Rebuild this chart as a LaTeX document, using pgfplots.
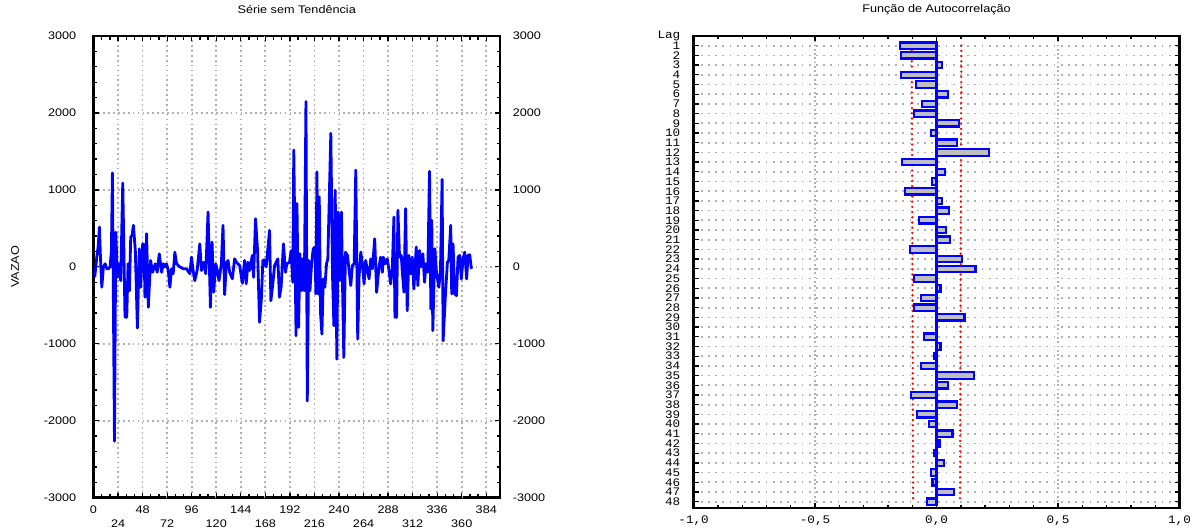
\documentclass[border=0pt]{standalone}
\usepackage{fontspec}
\setmainfont{Liberation Sans}
\newfontfamily\sanslab{Liberation Sans}[FakeStretch=1.15]
\newfontfamily\monolab{Liberation Mono}[FakeStretch=1.1]
\usepackage{pgfplots}
\pgfplotsset{compat=1.18}

\pgfplotsset{
  every axis/.append style={line width=2.6pt},
  statbox/.style={
    scale only axis,
    anchor=south west,
    tick align=inside,
    major tick length=5pt, minor tick length=3.5pt,
    every tick/.style={black, line width=1.3pt},
    axis line style={black, line width=2.6pt},
  },
}

\begin{document}
\begin{tikzpicture}[x=1pt,y=1pt]
\path[use as bounding box] (0,0) rectangle (1197,532);

% ---------- left: serie sem tendencia ----------
\begin{axis}[statbox,
  at={(93.5pt,34.3pt)}, width=406.5pt, height=461.7pt,
  xmin=0, xmax=397.4, ymin=-3000, ymax=3000,
  xtick={0,48,...,384},
  extra x ticks={24,72,...,360},
  extra x tick style={xticklabel style={yshift=-14pt}},
  ytick={-3000,-2000,...,3000},
  minor x tick num=5, minor y tick num=4,
  xtick pos=both, ytick pos=both,
  xticklabel pos=lower, yticklabel pos=left,
  grid=major,
  major grid style={black!30, line width=1.7pt, dash pattern=on 1.7pt off 3.2pt},
  /pgf/number format/1000 sep={},
  /pgf/number format/assume math mode=true,
  xticklabel style={font=\sanslab\fontsize{11}{12}\selectfont, inner sep=0pt, yshift=-7pt},
  yticklabel style={font=\sanslab\fontsize{11}{12}\selectfont, inner sep=0pt, xshift=-16pt},
  title={Série sem Tendência},
  title style={font=\sanslab\fontsize{11}{12}\selectfont, at={(axis description cs:0.5,1)}, anchor=center, yshift=20pt},
  ylabel={VAZAO},
  ylabel style={font=\sanslab\fontsize{11}{12}\selectfont, at={(axis description cs:-0.193,0.5)}, anchor=center},
]
\addplot[blue, line width=2.8pt, line join=round] coordinates {
(1.2,-135) (3.2,126) (4.5,256) (5.8,517) (6.8,126) (8.1,-265) (9.7,0) (11.4,40)
(13,-25) (14.6,-25) (16.2,0) (17.5,210) (18.5,1220) (20.5,-2265) (21.8,450)
(23.4,-135) (24.7,40) (26.6,-180) (28.6,1090) (30.8,-655) (32.5,-655) (33.8,40)
(35.1,-310) (36.4,387) (37.7,410) (39,540) (40.9,210) (42.9,-795) (44.8,235)
(46.1,-265) (48.1,300) (49.4,280) (50.3,-395) (51.9,430) (53.6,-525) (55.8,83)
(57.8,-70) (60.4,40) (62.3,-70) (64.3,170) (66.6,-70) (68.2,40) (69.8,0)
(71.4,40) (73.1,-48) (74.7,-265) (76.3,-25) (77.9,-90) (79.5,190) (81.2,40)
(84.4,0) (87.7,-25) (90.9,-25) (94.2,-90) (95.8,126) (97.4,-48) (99,-180)
(101.3,-48) (103.9,300) (105.5,-48) (107.8,60) (109.7,-90) (112,713) (114.3,-525)
(115.9,322) (117.5,-330) (119.5,40) (121.1,-48) (122.7,-180) (125,40) (126.6,540)
(128.2,-360) (129.9,40) (131.5,83) (133.1,-70) (135.7,-155) (138,104) (139.6,60)
(142.9,17) (145.5,-213) (147.7,83) (149.3,-220) (151,60) (152.6,-48) (155.2,148)
(156.5,-135) (158.4,626) (160.4,210) (162.3,-720) (164,-440) (165.6,83) (167.2,91)
(168.8,0) (172.1,474) (173.4,-440) (175.3,-220) (177,17) (178.6,60) (180.2,104)
(181.8,-395) (183.4,-265) (185.7,300) (187.7,-70) (189,40) (191.6,60) (193.2,210)
(194.8,-200) (195.8,1517) (198,-895) (198.9,822) (200.5,-787) (201.8,170)
(203.5,-310) (204.4,104) (206.1,-310) (207.7,2148) (209,-1743) (210.3,83)
(211.6,-310) (213.2,40) (214.8,235) (216.5,257) (217.4,-352) (218.4,1235)
(219.7,-352) (220.7,909) (222,-613) (223.3,-874) (224.6,-157) (226.2,-265)
(227.8,40) (229.1,104) (232,1735) (233.7,-135) (235,-765) (236.3,996) (237.9,-1200)
(239.2,713) (240.8,-178) (242.4,713) (243.4,-200) (244.7,-1178) (246.3,191)
(248.3,148) (249.9,-48) (251.5,-243) (253.1,17) (254.8,40) (256.4,1257)
(258.3,-939) (259.6,-135) (261.3,191) (262.9,40) (264.5,-222) (266.1,83)
(267.8,-48) (269.4,-157) (271,104) (272.6,-26) (274.9,365) (276.8,-330) (279.1,0)
(280.7,126) (282.4,-70) (283.3,126) (285,40) (287.2,104) (288.9,-48) (290.5,-222)
(292.1,-26) (293.7,648) (294.7,-657) (295.3,83) (296.3,-657) (297.6,735) (299.2,126)
(300.9,148) (301.8,-48) (303.5,-330) (305.1,757) (306.7,-570) (308.3,148) (310,-91)
(311.6,126) (313.2,-287) (315.5,257) (317.1,-243) (318.7,213) (320.3,0) (322,170)
(323.6,-200) (325.2,40) (326.8,-70) (328.5,1243) (329.8,-548) (330.7,604)
(331.7,-830) (333.7,235) (335.3,-70) (337.6,-265) (339.2,-48) (340.8,1135)
(341.8,-961) (344.1,-352) (346,60) (347.3,83) (349.2,539) (350.2,-352) (351.5,300)
(353.1,-352) (354.8,-374) (356.4,126) (358,148) (359.6,-157) (361.3,104) (362.9,191)
(364.8,-157) (366.1,148) (367.8,157) (369.4,-26)
};
\end{axis}

% right-hand tick labels of the left chart
\begin{axis}[
  scale only axis, anchor=south west,
  at={(93.5pt,34.3pt)}, width=406.5pt, height=461.7pt,
  xmin=0, xmax=397.4, ymin=-3000, ymax=3000,
  hide x axis, axis y line*=right,
  y axis line style={draw=none},
  ytick={-3000,-2000,...,3000},
  major tick length=0pt,
  /pgf/number format/1000 sep={},
  /pgf/number format/assume math mode=true,
  yticklabel style={font=\sanslab\fontsize{11}{12}\selectfont, anchor=west, inner sep=0pt, xshift=11.5pt},
]
\addplot[draw=none] coordinates {(0,0)};
\end{axis}

% ---------- right: funcao de autocorrelacao ----------
\begin{axis}[statbox,
  at={(693.6pt,24pt)}, width=485.9pt, height=472pt,
  xmin=-1, xmax=1, ymin=0, ymax=48.65, y dir=reverse,
  xtick={-1,-0.5,0,0.5,1},
  xticklabels={{-1,0},{-0,5},{0,0},{0,5},{1,0}},
  minor x tick num=4,
  ytick={0,1,...,48},
  yticklabels={Lag,1,2,3,4,5,6,7,8,9,10,11,12,13,14,15,16,17,18,19,20,21,22,23,24,
    25,26,27,28,29,30,31,32,33,34,35,36,37,38,39,40,41,42,43,44,45,46,47,48},
  xtick pos=both, ytick pos=both,
  xticklabel pos=lower, yticklabel pos=left,
  xmajorgrids, ymajorgrids,
  x grid style={black!30, line width=1.7pt, dash pattern=on 1.7pt off 2.6pt},
  y grid style={black!30, line width=1.7pt, dash pattern=on 1.7pt off 5.5pt},
  xticklabel style={font=\monolab\fontsize{11.5}{12}\selectfont, inner sep=0pt, yshift=-7pt},
  yticklabel style={font=\monolab\fontsize{11.5}{10}\selectfont, inner sep=0pt, xshift=-12pt},
  title={Função de Autocorrelação},
  title style={font=\sanslab\fontsize{11}{12}\selectfont, at={(axis description cs:0.5,1)}, anchor=center, yshift=20pt},
]
\addplot[red, line width=2.6pt, line cap=round, dash pattern=on 0pt off 5.2pt]
  coordinates {(-0.102,1) (-0.0965,48)};
\addplot[red, line width=2.6pt, line cap=round, dash pattern=on 0pt off 5.2pt]
  coordinates {(0.102,1) (0.0965,48)};
\addplot[blue, line width=2.4pt] coordinates {(0,0.6) (0,48.4)};
\addplot[xbar, bar width=6.4pt, fill=black!25, draw=blue, line width=2.2pt]
  coordinates {
(-0.150,1) (-0.147,2) (0.024,3) (-0.147,4) (-0.083,5) (0.046,6) (-0.059,7) (-0.094,8)
(0.094,9) (-0.022,10) (0.083,11) (0.216,12) (-0.141,13) (0.035,14) (-0.020,15) (-0.129,16)
(0.023,17) (0.050,18) (-0.071,19) (0.040,20) (0.056,21) (-0.108,22) (0.104,23) (0.160,24)
(-0.092,25) (0.016,26) (-0.063,27) (-0.092,28) (0.115,29) (0.000,30) (-0.053,31) (0.016,32)
(-0.012,33) (-0.065,34) (0.155,35) (0.046,36) (-0.105,37) (0.083,38) (-0.081,39) (-0.032,40)
(0.066,41) (0.012,42) (-0.012,43) (0.032,44) (-0.022,45) (-0.017,46) (0.072,47) (-0.039,48)
};
\end{axis}
\end{tikzpicture}
\end{document}
